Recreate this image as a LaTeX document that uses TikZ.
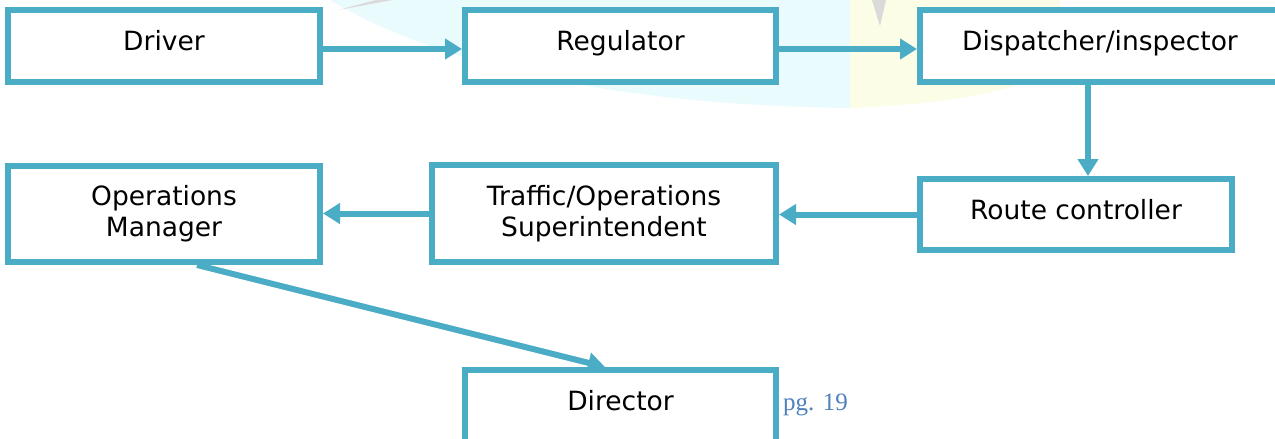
\documentclass[tikz,border=0pt]{standalone}
\usepackage{fontspec}
\setmainfont{DejaVu Sans}
\newfontfamily\pagenumfont{Liberation Serif}
\usetikzlibrary{arrows.meta}

\definecolor{flowblue}{RGB}{75,172,198}
\definecolor{pagenumblue}{RGB}{79,129,189}
\definecolor{markcyan}{RGB}{234,251,253}
\definecolor{markyellow}{RGB}{252,253,230}
\definecolor{markgrey}{RGB}{218,218,218}

\tikzset{
  orgbox/.style={draw=flowblue, line width=6pt, fill=white, inner sep=0pt,
    align=center, font=\fontsize{26.5}{31}\selectfont},
  oneline/.style={text height=20pt, text depth=11pt},
  flowarrow/.style={draw=flowblue, line width=6pt,
    -{Triangle[length=17pt,width=20pt]}},
}

\begin{document}
\begin{tikzpicture}[x=1pt,y=-1pt]
  \useasboundingbox (0,0) rectangle (1275,439);
  \fill[white] (0,0) rectangle (1275,439);

  % faint logo in the page background
  \begin{scope}
    \clip (0,0) rectangle (1275,439);
    \fill[markcyan] (330,-40) -- (330,0) .. controls (430,60) and (600,105) .. (850,108) -- (850,-40) -- cycle;
    \fill[markyellow] (850,-40) -- (850,108) .. controls (940,104) and (1000,95) .. (1060,70) -- (1060,-40) -- cycle;
    \fill[markgrey] (338,10) -- (395,-5) -- (420,-5) -- cycle;
    \fill[markgrey] (872,0) -- (886,0) -- (880,26) -- cycle;
  \end{scope}

  % chain of responsibility, top row
  \node[orgbox, oneline, minimum width=312pt, minimum height=72pt] (drv) at (164,46) {Driver};
  \node[orgbox, oneline, minimum width=311pt, minimum height=72pt] (reg) at (620.5,46) {Regulator};
  \node[orgbox, oneline, minimum width=360pt, minimum height=72pt] (dsp) at (1100,46) {Dispatcher/inspector};

  % middle row
  \node[orgbox, oneline, minimum width=312pt, minimum height=71pt] (rc) at (1076,214.5) {Route controller};
  \node[orgbox, minimum width=344pt, minimum height=97pt] (tos) at (604,213.5) {Traffic/Operations\\Superintendent};
  \node[orgbox, minimum width=312pt, minimum height=96pt] (om) at (164,214) {Operations\\Manager};

  % bottom
  \node[orgbox, oneline, minimum width=311pt, minimum height=72pt] (dir) at (620.5,406) {Director};
  \node[anchor=base west, inner sep=0pt, text=pagenumblue, font=\pagenumfont\fontsize{25}{30}\selectfont] (pg) at (783,410) {pg. 19};

  % connectors
  \draw[flowarrow] ([yshift=-3pt]drv.east) -- ([yshift=-3pt]reg.west);
  \draw[flowarrow] ([yshift=-3pt]reg.east) -- ([yshift=-3pt]dsp.west);
  \draw[flowarrow] ([xshift=-12pt]dsp.south) -- ([xshift=12pt]rc.north);
  \draw[flowarrow] (rc.west) -- (rc.west -| tos.east);
  \draw[flowarrow] (tos.west) -- (tos.west -| om.east);
  \draw[flowarrow] ([xshift=33pt]om.south) -- ([xshift=-15.5pt]dir.north);
\end{tikzpicture}
\end{document}
